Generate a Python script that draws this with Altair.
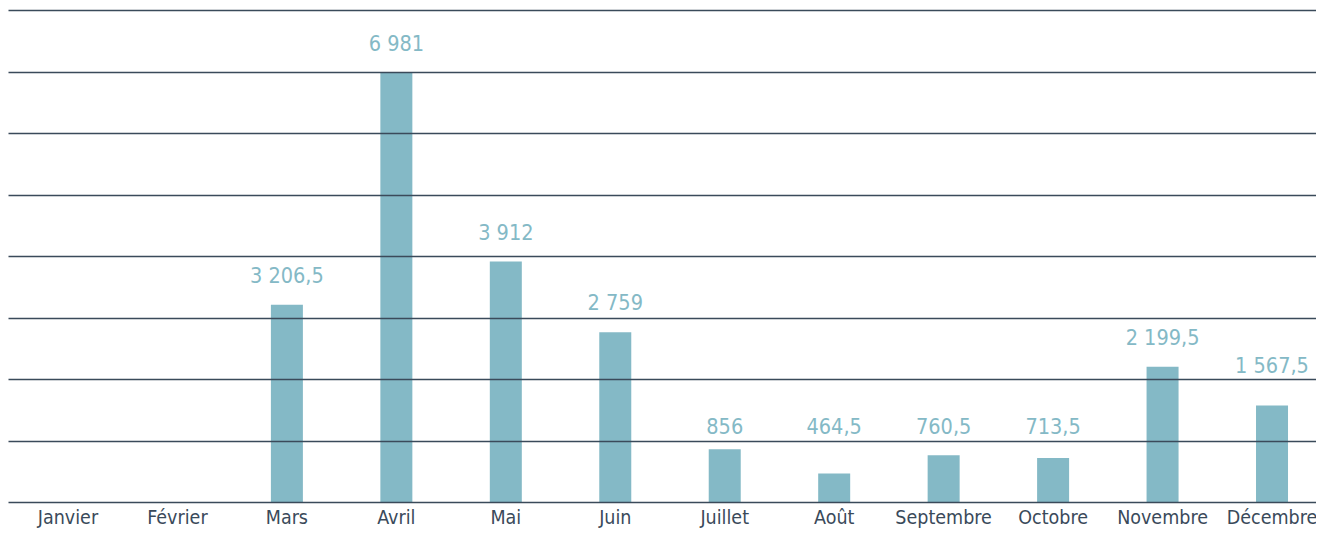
import altair as alt
import pandas as pd

months = ["Janvier", "Février", "Mars", "Avril", "Mai", "Juin", "Juillet",
          "Août", "Septembre", "Octobre", "Novembre", "Décembre"]
values = [None, None, 3206.5, 6981, 3912, 2759, 856, 464.5, 760.5, 713.5, 2199.5, 1567.5]


def fr(v):
    if v is None:
        return ""
    if float(v).is_integer():
        s = f"{int(v):,}".replace(",", " ")
    else:
        s = f"{v:,.1f}".replace(",", " ").replace(".", ",")
    return s


df = pd.DataFrame({"mois": months, "valeur": values, "label": [fr(v) for v in values]})

FONT = "DejaVu Sans Condensed"
BAR = "#84b9c6"

x = alt.X("mois:N", sort=months, title=None,
          scale=alt.Scale(range=[0, 1324], paddingInner=0, paddingOuter=0.048),
          axis=alt.Axis(labelAngle=0, ticks=False, domain=False, labelFont=FONT,
                        labelFontSize=19.5, labelColor="#3a4a5a", labelPadding=6,
                        grid=False))
yscale = alt.Scale(domain=[0, 8000], nice=False)
y = alt.Y("valeur:Q", title=None, scale=yscale,
          axis=alt.Axis(values=list(range(0, 8001, 1000)), labels=False, ticks=False,
                        domain=False, grid=True, gridColor="#3a4a5a", gridWidth=1.3,
                        zindex=1))

bars = alt.Chart(df).mark_bar(size=32, color=BAR).encode(x=x, y=y)
text = alt.Chart(df).transform_filter("datum.valeur != null").transform_calculate(
    pos="datum.valeur >= 2000 ? datum.valeur + 355 : ceil(datum.valeur / 1000) * 1000 + 105"
).mark_text(
    font=FONT, fontSize=21.5, color=BAR, baseline="alphabetic"
).encode(x=alt.X("mois:N", sort=months), y=alt.Y("pos:Q", scale=yscale), text="label:N")

chart = (bars + text).properties(
    width=1308, height=492,
    autosize=alt.AutoSizeParams(type="none"),
    padding={"top": 2, "left": 0, "right": 0, "bottom": 30}
).configure_view(stroke=None)

chart.save("out.html", embed_options={"renderer": "svg", "actions": False})
